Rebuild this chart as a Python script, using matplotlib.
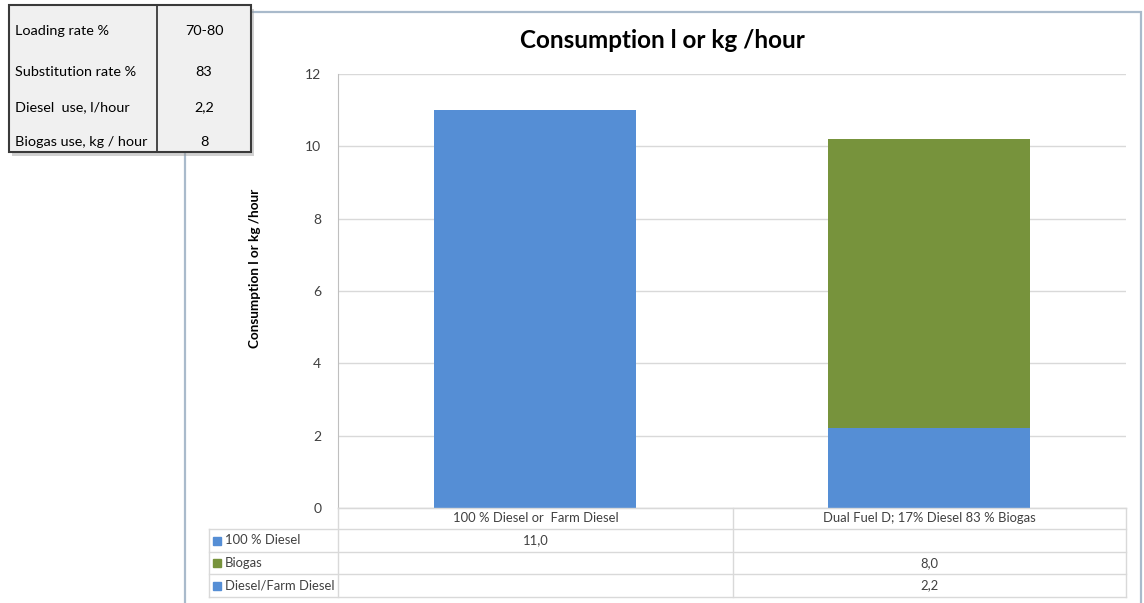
import matplotlib
matplotlib.use("Agg")
import matplotlib.pyplot as plt
from matplotlib.patches import Rectangle
from matplotlib.lines import Line2D

plt.rcParams['font.family'] = ['Lato', 'DejaVu Sans']

# ---- data ----
categories = ["100 % Diesel or  Farm Diesel", "Dual Fuel D; 17% Diesel 83 % Biogas"]
series_names = ["100 % Diesel", "Biogas", "Diesel/Farm Diesel"]
diesel100 = [11.0, None]
biogas = [None, 8.0]
farm_diesel = [None, 2.2]
yticks = [0, 2, 4, 6, 8, 10, 12]

inset_labels = ["Loading rate %", "Substitution rate %", "Diesel  use, l/hour", "Biogas use, kg / hour"]
inset_values = ["70-80", "83", "2,2", "8"]

title = "Consumption l or kg /hour"
ylabel = "Consumption l or kg /hour"

BLUE = "#558ED5"
GREEN = "#77933C"
GRID = "#D9D9D9"
TXT = "#404040"

W, H = 1144, 603
fig = plt.figure(figsize=(W / 100, H / 100), dpi=100)


def fx(x):
    return x / W


def fy(y):
    return 1 - y / H


def hline(x0, x1, y, color=GRID, lw=1.0, z=2):
    fig.add_artist(Line2D([fx(x0), fx(x1)], [fy(y), fy(y)], color=color, lw=lw, zorder=z))


def vline(x, y0, y1, color=GRID, lw=1.0, z=2):
    fig.add_artist(Line2D([fx(x), fx(x)], [fy(y0), fy(y1)], color=color, lw=lw, zorder=z))


# outer chart frame
fig.add_artist(Rectangle((fx(185), fy(612)), fx(1141) - fx(185), fy(12) - fy(612),
                         fill=False, edgecolor="#A9BACB", lw=1.6, zorder=1))

# ---- main axes ----
ax_l, ax_r, ax_t, ax_b = 338, 1126, 74, 508
ax = fig.add_axes([fx(ax_l), fy(ax_b), fx(ax_r) - fx(ax_l), fy(ax_t) - fy(ax_b)])
x = [0, 1]
bw = 0.513
d100 = [v if v is not None else 0 for v in diesel100]
fd = [v if v is not None else 0 for v in farm_diesel]
bg = [v if v is not None else 0 for v in biogas]
ax.bar(x, d100, width=bw, color=BLUE, zorder=3)
ax.bar(x, fd, width=bw, color=BLUE, zorder=3)
ax.bar(x, bg, width=bw, bottom=fd, color=GREEN, zorder=3)
ax.set_xlim(-0.5, 1.5)
ax.set_ylim(0, 12)
ax.set_yticks(yticks)
ax.set_yticklabels([str(t) for t in yticks])
ax.set_xticks([])
ax.tick_params(axis='y', length=0, pad=12, labelsize=10, labelcolor=TXT)
ax.yaxis.grid(True, color=GRID, lw=1.0, zorder=0)
ax.set_axisbelow(True)
for s in ["top", "right"]:
    ax.spines[s].set_visible(False)
ax.spines["left"].set_color("#BFBFBF")
ax.spines["bottom"].set_color(GRID)
ax.patch.set_alpha(0)

fig.text(fx(662), fy(41), title, ha="center", va="center", fontsize=17.5,
         fontweight="bold", color="black")
fig.text(fx(255), fy(268), ylabel, ha="center", va="center", rotation=90,
         fontsize=9.7, fontweight="bold", color="black")

# ---- data table under the chart ----
t_left, t_mid, t_right = 209, 733, 1126
row_lines = [508, 529, 552, 574, 597]
hline(ax_l, t_right, row_lines[0])
for y in row_lines[1:]:
    hline(t_left, t_right, y)
vline(t_left, row_lines[1], row_lines[-1])
vline(ax_l, row_lines[0], row_lines[-1])
vline(t_mid, row_lines[0], row_lines[-1])
vline(t_right, row_lines[0], row_lines[-1])

col_centers = [(ax_l + t_mid) / 2, (t_mid + t_right) / 2]
for cx, cat in zip(col_centers, categories):
    fig.text(fx(cx), fy((row_lines[0] + row_lines[1]) / 2), cat, ha="center",
             va="center", fontsize=9.4, color=TXT)

row_series = [diesel100, biogas, farm_diesel]
row_colors = [BLUE, GREEN, BLUE]
for i, (name, vals, col) in enumerate(zip(series_names, row_series, row_colors)):
    yc = (row_lines[i + 1] + row_lines[i + 2]) / 2
    fig.add_artist(Rectangle((fx(213), fy(yc + 4)), fx(8), 8 / H, color=col, zorder=3))
    fig.text(fx(225), fy(yc), name, ha="left", va="center", fontsize=9.4, color=TXT)
    for cx, v in zip(col_centers, vals):
        if v is not None:
            fig.text(fx(cx), fy(yc), f"{v:.1f}".replace('.', ','), ha="center",
                     va="center", fontsize=9.4, color=TXT)

# ---- inset info table ----
bx0, bx1, by0, by1, bdiv = 9, 251, 5, 152, 157
fig.add_artist(Rectangle((fx(bx0 + 3), fy(by1 + 4)), fx(bx1 - bx0), fy(by0) - fy(by1),
                         facecolor="#9A9A9A", edgecolor="none", alpha=0.45, zorder=4))
fig.add_artist(Rectangle((fx(bx0), fy(by1)), fx(bx1 - bx0), fy(by0) - fy(by1),
                         facecolor="#F0F0F0", edgecolor="#3A3A3A", lw=1.5, zorder=5))
fig.add_artist(Line2D([fx(bdiv), fx(bdiv)], [fy(by0), fy(by1)], color="#3A3A3A",
                      lw=1.3, zorder=6))
row_y = [31, 72, 107, 142]
for yy, lab, val in zip(row_y, inset_labels, inset_values):
    fig.text(fx(15), fy(yy), lab, ha="left", va="center", fontsize=10.4, color="black", zorder=7)
    fig.text(fx(204), fy(yy), val, ha="center", va="center", fontsize=10.4, color="black", zorder=7)

fig.savefig("out.png", dpi=100)
